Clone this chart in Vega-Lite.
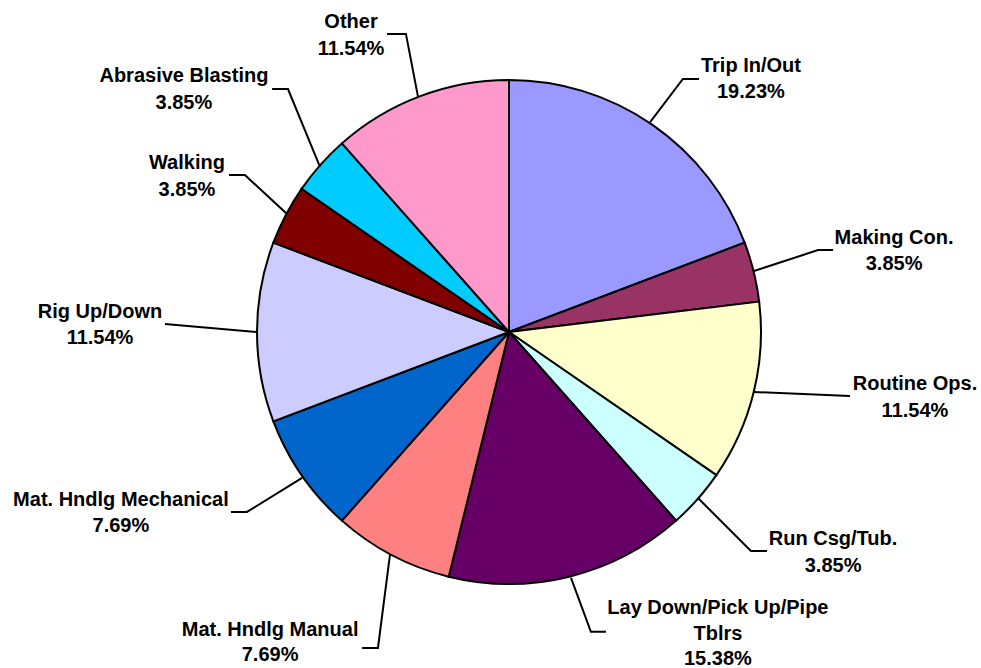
{
  "$schema": "https://vega.github.io/schema/vega-lite/v6.json",
  "width": 944,
  "height": 664,
  "padding": {"left": 37, "top": 0, "right": 0, "bottom": 4},
  "autosize": {"type": "none"},
  "background": "white",
  "config": {"view": {"stroke": null}},
  "datasets": {
    "slices": [
      {"cat": "Trip In/Out", "value": 5, "ord": 1},
      {"cat": "Making Con.", "value": 1, "ord": 2},
      {"cat": "Routine Ops.", "value": 3, "ord": 3},
      {"cat": "Run Csg/Tub.", "value": 1, "ord": 4},
      {"cat": "Lay Down/Pick Up/Pipe Tblrs", "value": 4, "ord": 5},
      {"cat": "Mat. Hndlg Manual", "value": 2, "ord": 6},
      {"cat": "Mat. Hndlg Mechanical", "value": 2, "ord": 7},
      {"cat": "Rig Up/Down", "value": 3, "ord": 8},
      {"cat": "Walking", "value": 1, "ord": 9},
      {"cat": "Abrasive Blasting", "value": 1, "ord": 10},
      {"cat": "Other", "value": 3, "ord": 11}
    ],
    "leaders": [
      {"cat": "Trip In/Out", "seq": 1, "lx": 0.560, "ly": 0.833},
      {"cat": "Trip In/Out", "seq": 2, "lx": 0.690, "ly": 1.004},
      {"cat": "Trip In/Out", "seq": 3, "lx": 0.754, "ly": 1.004},
      {"cat": "Making Con.", "seq": 1, "lx": 0.972, "ly": 0.242},
      {"cat": "Making Con.", "seq": 2, "lx": 1.226, "ly": 0.325},
      {"cat": "Making Con.", "seq": 3, "lx": 1.286, "ly": 0.325},
      {"cat": "Routine Ops.", "seq": 1, "lx": 0.968, "ly": -0.238},
      {"cat": "Routine Ops.", "seq": 2, "lx": 1.353, "ly": -0.254},
      {"cat": "Run Csg/Tub.", "seq": 1, "lx": 0.750, "ly": -0.659},
      {"cat": "Run Csg/Tub.", "seq": 2, "lx": 0.960, "ly": -0.869},
      {"cat": "Run Csg/Tub.", "seq": 3, "lx": 1.024, "ly": -0.869},
      {"cat": "Lay Down/Pick Up/Pipe Tblrs", "seq": 1, "lx": 0.246, "ly": -0.976},
      {"cat": "Lay Down/Pick Up/Pipe Tblrs", "seq": 2, "lx": 0.325, "ly": -1.190},
      {"cat": "Lay Down/Pick Up/Pipe Tblrs", "seq": 3, "lx": 0.385, "ly": -1.190},
      {"cat": "Mat. Hndlg Manual", "seq": 1, "lx": -0.472, "ly": -0.881},
      {"cat": "Mat. Hndlg Manual", "seq": 2, "lx": -0.520, "ly": -1.254},
      {"cat": "Mat. Hndlg Manual", "seq": 3, "lx": -0.583, "ly": -1.254},
      {"cat": "Mat. Hndlg Mechanical", "seq": 1, "lx": -0.821, "ly": -0.579},
      {"cat": "Mat. Hndlg Mechanical", "seq": 2, "lx": -1.040, "ly": -0.714},
      {"cat": "Mat. Hndlg Mechanical", "seq": 3, "lx": -1.103, "ly": -0.714},
      {"cat": "Rig Up/Down", "seq": 1, "lx": -1.000, "ly": 0.000},
      {"cat": "Rig Up/Down", "seq": 2, "lx": -1.365, "ly": 0.032},
      {"cat": "Walking", "seq": 1, "lx": -0.885, "ly": 0.472},
      {"cat": "Walking", "seq": 2, "lx": -1.048, "ly": 0.623},
      {"cat": "Walking", "seq": 3, "lx": -1.111, "ly": 0.623},
      {"cat": "Abrasive Blasting", "seq": 1, "lx": -0.750, "ly": 0.655},
      {"cat": "Abrasive Blasting", "seq": 2, "lx": -0.877, "ly": 0.964},
      {"cat": "Abrasive Blasting", "seq": 3, "lx": -0.940, "ly": 0.964},
      {"cat": "Other", "seq": 1, "lx": -0.361, "ly": 0.933},
      {"cat": "Other", "seq": 2, "lx": -0.409, "ly": 1.183},
      {"cat": "Other", "seq": 3, "lx": -0.484, "ly": 1.183}
    ],
    "labels": [
      {"txt": "Trip In/Out", "tx": 0.960, "ty": 1.032},
      {"txt": "19.23%", "tx": 0.960, "ty": 0.929},
      {"txt": "Making Con.", "tx": 1.528, "ty": 0.349},
      {"txt": "3.85%", "tx": 1.528, "ty": 0.246},
      {"txt": "Routine Ops.", "tx": 1.611, "ty": -0.230},
      {"txt": "11.54%", "tx": 1.611, "ty": -0.337},
      {"txt": "Run Csg/Tub.", "tx": 1.286, "ty": -0.845},
      {"txt": "3.85%", "tx": 1.286, "ty": -0.952},
      {"txt": "Lay Down/Pick Up/Pipe", "tx": 0.829, "ty": -1.119},
      {"txt": "Tblrs", "tx": 0.829, "ty": -1.222},
      {"txt": "15.38%", "tx": 0.829, "ty": -1.321},
      {"txt": "Mat. Hndlg Manual", "tx": -0.948, "ty": -1.205},
      {"txt": "7.69%", "tx": -0.948, "ty": -1.305},
      {"txt": "Mat. Hndlg Mechanical", "tx": -1.540, "ty": -0.690},
      {"txt": "7.69%", "tx": -1.540, "ty": -0.794},
      {"txt": "Rig Up/Down", "tx": -1.623, "ty": 0.056},
      {"txt": "11.54%", "tx": -1.623, "ty": -0.048},
      {"txt": "Walking", "tx": -1.278, "ty": 0.647},
      {"txt": "3.85%", "tx": -1.278, "ty": 0.540},
      {"txt": "Abrasive Blasting", "tx": -1.290, "ty": 0.992},
      {"txt": "3.85%", "tx": -1.290, "ty": 0.885},
      {"txt": "Other", "tx": -0.627, "ty": 1.206},
      {"txt": "11.54%", "tx": -0.627, "ty": 1.099}
    ]
  },
  "layer": [
    {
      "data": {"name": "slices"},
      "mark": {"type": "arc", "outerRadius": 252, "stroke": "black", "strokeWidth": 2},
      "encoding": {
        "theta": {"field": "value", "type": "quantitative", "stack": true},
        "order": {"field": "ord", "type": "quantitative"},
        "color": {
          "field": "cat",
          "type": "nominal",
          "legend": null,
          "scale": {
            "domain": ["Trip In/Out", "Making Con.", "Routine Ops.", "Run Csg/Tub.", "Lay Down/Pick Up/Pipe Tblrs", "Mat. Hndlg Manual", "Mat. Hndlg Mechanical", "Rig Up/Down", "Walking", "Abrasive Blasting", "Other"],
            "range": ["#9999FF", "#993366", "#FFFFCC", "#CCFFFF", "#660066", "#FF8080", "#0066CC", "#CCCCFF", "#800000", "#00CCFF", "#FF99CC"]
          }
        }
      }
    },
    {
      "data": {"name": "leaders"},
      "mark": {"type": "line", "color": "black", "strokeWidth": 2},
      "encoding": {
        "x": {"field": "lx", "type": "quantitative", "axis": null, "scale": {"domain": [-1.873, 1.873], "nice": false, "zero": false}},
        "y": {"field": "ly", "type": "quantitative", "axis": null, "scale": {"domain": [-1.3175, 1.3175], "nice": false, "zero": false}},
        "detail": {"field": "cat", "type": "nominal"},
        "order": {"field": "seq", "type": "quantitative"}
      }
    },
    {
      "data": {"name": "labels"},
      "mark": {"type": "text", "font": "Liberation Sans", "fontWeight": "bold", "fontSize": 20, "align": "center", "baseline": "alphabetic", "color": "black"},
      "encoding": {
        "x": {"field": "tx", "type": "quantitative", "axis": null, "scale": {"domain": [-1.873, 1.873], "nice": false, "zero": false}},
        "y": {"field": "ty", "type": "quantitative", "axis": null, "scale": {"domain": [-1.3175, 1.3175], "nice": false, "zero": false}},
        "text": {"field": "txt", "type": "nominal"}
      }
    }
  ]
}
